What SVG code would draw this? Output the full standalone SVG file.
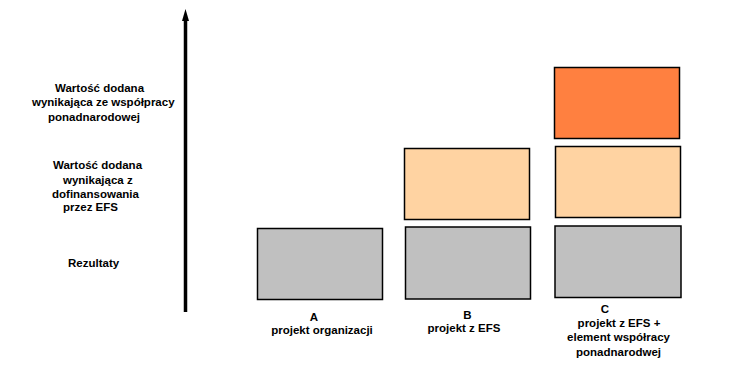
<svg xmlns="http://www.w3.org/2000/svg" width="751" height="386" viewBox="0 0 751 386">
<style>
text{font-family:"Liberation Sans",Arial,sans-serif;font-size:11.5px;font-weight:bold;fill:#000}
.c{text-anchor:middle}
.box{stroke:#000;stroke-width:1.5}
.g{fill:#C0C0C0}
.p{fill:#FFD3A2}
.o{fill:#FF8040}
</style>
<rect width="751" height="386" fill="#fff"/>
<g id="connectors">
<line x1="185.5" y1="312" x2="185.5" y2="18" stroke="#000" stroke-width="3.5"/>
<polygon points="185.5,9 182,21 189,21" fill="#000"/>
</g>
<g id="label-ponad">
<text x="55" y="92">Wartość dodana</text>
<text x="32" y="106">wynikająca ze współpracy</text>
<text x="48" y="121">ponadnarodowej</text>
</g>
<g id="label-efs">
<text x="53" y="169">Wartość dodana</text>
<text x="63" y="184">wynikająca z</text>
<text x="52" y="198">dofinansowania</text>
<text x="63" y="211">przez EFS</text>
</g>
<g id="label-rez">
<text x="68" y="267">Rezultaty</text>
</g>
<g id="A-gray"><rect class="box g" x="257.5" y="228.5" width="125" height="71"/></g>
<g id="B-gray"><rect class="box g" x="405.5" y="227" width="125" height="72"/></g>
<g id="B-peach"><rect class="box p" x="404.5" y="148.5" width="125" height="71"/></g>
<g id="C-gray"><rect class="box g" x="555" y="226" width="126" height="71.5"/></g>
<g id="C-peach"><rect class="box p" x="555.5" y="146.5" width="125" height="71"/></g>
<g id="C-orange"><rect class="box o" x="554.5" y="67.5" width="125" height="71"/></g>
<g id="label-A">
<text class="c" x="314" y="321">A</text>
<text class="c" x="322" y="334">projekt organizacji</text>
</g>
<g id="label-B">
<text class="c" x="467.5" y="319">B</text>
<text class="c" x="464" y="332">projekt z EFS</text>
</g>
<g id="label-C">
<text class="c" x="605" y="313">C</text>
<text class="c" x="619" y="327">projekt z EFS +</text>
<text class="c" x="618.5" y="341">element współracy</text>
<text class="c" x="618.5" y="356">ponadnarodwej</text>
</g>
</svg>
